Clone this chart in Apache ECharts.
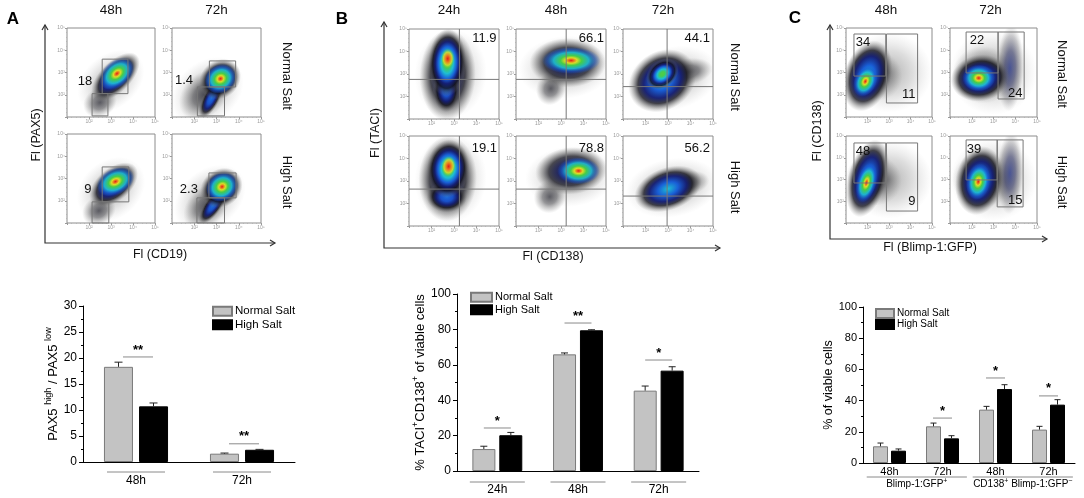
<!DOCTYPE html>
<html><head><meta charset="utf-8">
<script src="https://cdn.jsdelivr.net/npm/echarts@6/dist/echarts.min.js"></script>
<style>html,body{margin:0;padding:0;background:#fff}#c{width:1084px;height:498px}</style>
</head><body><div id="c"></div>
<script>
// ================= DATA =================
// --- bar chart A ---
const catsA = ['48h', '72h'];
const paxNormal = [18.3, 1.6];
const paxHigh = [10.7, 2.35];
const paxNormalErr = [0.9, 0.12];
const paxHighErr = [0.65, 0.08];
const sigA = [[0, 20.2, '**'], [1, 3.5, '**']];
// --- bar chart B ---
const catsB = ['24h', '48h', '72h'];
const taciNormal = [12.4, 65.9, 45.4];
const taciHigh = [20.2, 79.5, 56.7];
const taciNormalErr = [1.6, 0.8, 2.6];
const taciHighErr = [1.6, 0.3, 2.2];
const sigB = [[0, 24.3, '*'], [1, 83.6, '**'], [2, 62.7, '*']];
// --- bar chart C ---
const catsC = ['48h', '72h', '48h', '72h'];
const viableNormal = [10.7, 23.5, 34.2, 21.4];
const viableHigh = [7.9, 15.8, 47.4, 37.4];
const viableNormalErr = [2.1, 2.1, 2.1, 2.1];
const viableHighErr = [1.1, 1.7, 2.8, 3.2];
const sigC = [[1, 28.8, '*'], [2, 54.5, '*'], [3, 43, '*']];
const groupSpansC = [[0, 1], [2, 3]];
const groupLabelsC = ['Blimp-1:GFP{s|+}', 'CD138{s|+} Blimp-1:GFP{s|−}'];
const seriesNames = ['Normal Salt', 'High Salt'];

// --- flow cytometry panels ---
const flowTicks = ['', '10²', '10³', '10⁴', '10⁵'];
const rowLabels = ['Normal Salt', 'High Salt'];
const colsA = ['48h', '72h'];
const colsB = ['24h', '48h', '72h'];
const colsC = ['48h', '72h'];
const axisTitlesA = ['Fl (PAX5)', 'Fl (CD19)'];
const axisTitlesB = ['Fl (TACI)', 'Fl (CD138)'];
const axisTitlesC = ['Fl (CD138)', 'Fl (Blimp-1:GFP)'];
const panelLetters = ['A', 'B', 'C'];
// gates: [panel, x0, y0, x1, y1] (log decades)
const gatesA = [[0,1.6,1.05,2.77,2.6],[0,1.14,0.05,1.86,1.05],[1,1.68,1.35,2.86,2.52],[1,1.14,0.05,2.36,1.35],
                [2,1.6,0.95,2.81,2.52],[2,1.14,0,1.9,0.95],[3,1.66,1.13,2.88,2.25],[3,1.12,0,2.36,1.13]];
const labelsA = [[0,0.82,1.62,'18'],[1,0.54,1.66,'1.4'],[2,0.95,1.53,'9'],[3,0.76,1.53,'2.3']];
// density blobs: [panel, cx, cy, rx, ry, angle, level]
const blobsA = [
  [0,2.0,1.6,1.7,1.2,40,7],[0,1.5,0.65,0.8,0.65,30,6],[0,2.2,1.8,1.4,0.7,45,4],[0,2.27,1.95,0.9,0.6,40,10],
  [1,1.6,1.15,1.8,1.35,40,7],[1,1.45,1.0,1.3,0.95,45,6],[1,1.77,0.85,1.0,0.38,63,4],[1,2.16,1.7,1.0,0.85,40,4],[1,2.18,1.72,0.75,0.65,30,10],
  [2,2.0,1.5,1.7,1.3,40,7],[2,1.45,0.55,0.8,0.65,30,6],[2,2.12,1.72,1.3,0.75,40,4],[2,2.2,1.86,0.9,0.6,25,10],
  [3,1.7,1.1,1.8,1.3,40,7],[3,1.55,0.75,1.2,0.85,45,6],[3,1.85,0.8,1.0,0.38,55,4],[3,2.22,1.58,1.0,0.85,35,4],[3,2.25,1.63,0.75,0.65,30,10]
];
const quadB = [[0,2.24,1.76],[1,2.23,1.76],[2,1.96,1.44],[3,2.24,1.64],[4,2.23,1.64],[5,1.96,1.33]];
const labelsB = [[0,3.35,3.56,'11.9'],[1,3.35,3.56,'66.1'],[2,3.3,3.56,'44.1'],[3,3.35,3.47,'19.1'],[4,3.35,3.47,'78.8'],[5,3.3,3.47,'56.2']];
const blobsB = [
  [0,1.85,2.0,2.0,1.6,85,7],[0,1.72,1.95,2.05,1.25,88,5],[0,1.66,1.3,1.0,0.6,90,4],[0,1.7,2.5,1.5,0.85,88,2],[0,1.72,2.68,0.45,0.3,88,9],
  [1,2.2,2.3,2.1,1.4,5,7],[1,1.55,1.35,0.75,0.65,70,6],[1,2.3,2.5,1.7,1.1,0,5],[1,2.45,2.6,1.3,0.6,0,10],
  [2,2.2,1.8,2.1,1.4,15,7],[2,2.9,2.1,1.1,0.6,10,6],[2,1.75,1.7,1.6,1.3,35,3],[2,1.75,2.0,0.8,0.6,40,2],
  [3,1.85,2.1,2.0,1.6,85,7],[3,1.72,2.1,1.9,1.3,88,5],[3,1.68,1.3,0.9,0.7,0,4],[3,1.74,2.55,1.3,0.95,85,2],[3,1.76,2.65,0.45,0.32,85,9],
  [4,2.4,2.2,2.0,1.35,5,7],[4,1.5,1.3,0.75,0.7,60,6],[4,2.45,2.45,1.6,1.05,5,5],[4,2.78,2.45,0.95,0.6,0,10],
  [5,2.2,1.7,2.1,1.3,10,7],[5,2.85,1.9,1.0,0.55,10,6],[5,2.0,1.65,1.55,0.95,20,3]
];
const gatesC = [[0,0.37,1.84,1.85,3.73],[0,1.88,0.63,3.33,3.73],[1,0.74,1.98,2.21,3.82],[1,2.21,0.81,3.41,3.82],
                [2,0.37,1.84,1.85,3.68],[2,1.88,0.55,3.33,3.68],[3,0.74,1.98,2.17,3.82],[3,2.17,0.74,3.36,3.82]];
const labelsC = [[0,0.79,3.33,'34'],[0,2.92,1.03,'11'],[1,1.24,3.42,'22'],[1,3.0,1.08,'24'],
                 [2,0.79,3.31,'48'],[2,3.06,0.97,'9'],[3,1.1,3.4,'39'],[3,3.0,1.06,'15']];
const blobsC = [
  [0,2.0,2.0,2.0,1.8,0,7],[0,1.3,1.9,1.2,1.3,70,6],[0,1.0,1.85,1.7,1.05,72,3],[0,0.9,1.6,0.75,0.5,65,10],
  [1,2.0,2.0,2.0,1.9,0,7],[1,1.5,1.9,1.4,1.3,0,6],[1,2.76,2.2,2.0,0.6,88,8],[1,1.38,1.75,1.35,1.05,10,3],[1,1.32,1.75,0.75,0.6,0,10],
  [2,2.0,2.0,2.0,1.8,0,7],[2,1.3,2.0,1.2,1.3,70,6],[2,1.0,2.05,1.85,0.9,75,3],[2,0.95,1.85,0.95,0.45,75,10],
  [3,2.0,2.0,2.0,1.9,0,7],[3,1.5,2.0,1.4,1.3,0,6],[3,2.76,2.3,1.9,0.6,88,8],[3,1.35,1.95,1.6,1.1,80,3],[3,1.3,1.9,0.85,0.55,80,10]
];

// ================= LAYOUT / STYLE =================
const FONT = '"Liberation Sans", Arial, sans-serif';
const palettes = {
  0: [[0,'rgb(225,30,25)'],[0.07,'rgb(235,110,30)'],[0.13,'rgb(220,220,40)'],[0.22,'rgb(70,205,70)'],[0.34,'rgb(30,190,210)'],[0.48,'rgb(25,95,215)'],[0.62,'rgba(20,30,115,0.97)'],[0.75,'rgba(20,20,30,0.8)'],[0.88,'rgba(70,70,70,0.35)'],[1,'rgba(120,120,120,0)']],
  2: [[0,'rgb(80,205,70)'],[0.15,'rgb(70,205,80)'],[0.32,'rgb(30,190,210)'],[0.48,'rgb(25,95,215)'],[0.62,'rgba(20,30,115,0.97)'],[0.76,'rgba(20,20,30,0.8)'],[0.88,'rgba(70,70,70,0.35)'],[1,'rgba(120,120,120,0)']],
  3: [[0,'rgb(30,190,210)'],[0.3,'rgb(25,95,215)'],[0.55,'rgba(20,30,115,0.97)'],[0.72,'rgba(20,20,30,0.8)'],[0.87,'rgba(70,70,70,0.35)'],[1,'rgba(120,120,120,0)']],
  4: [[0,'rgb(30,110,220)'],[0.3,'rgb(25,80,200)'],[0.52,'rgba(20,30,115,0.97)'],[0.7,'rgba(20,20,30,0.8)'],[0.86,'rgba(70,70,70,0.35)'],[1,'rgba(120,120,120,0)']],
  5: [[0,'rgba(25,40,140,0.95)'],[0.35,'rgba(20,25,90,0.92)'],[0.62,'rgba(20,20,30,0.75)'],[0.84,'rgba(70,70,70,0.32)'],[1,'rgba(120,120,120,0)']],
  6: [[0,'rgba(30,30,40,0.7)'],[0.45,'rgba(45,45,50,0.5)'],[0.8,'rgba(100,100,100,0.2)'],[1,'rgba(140,140,140,0)']],
  7: [[0,'rgba(60,60,60,0.42)'],[0.55,'rgba(100,100,100,0.22)'],[1,'rgba(150,150,150,0)']],
  8: [[0,'rgba(30,45,130,0.75)'],[0.4,'rgba(25,30,80,0.55)'],[0.75,'rgba(50,50,60,0.25)'],[1,'rgba(120,120,120,0)']],
  9: [[0,'rgb(225,30,25)'],[0.35,'rgb(235,130,30)'],[0.65,'rgba(215,220,40,0.85)'],[1,'rgba(70,205,70,0)']],
  10: [[0,'rgb(225,30,25)'],[0.1,'rgb(235,120,30)'],[0.2,'rgb(220,220,40)'],[0.36,'rgb(70,205,70)'],[0.6,'rgba(30,190,210,0.9)'],[0.82,'rgba(25,95,215,0.5)'],[1,'rgba(25,95,215,0)']]
};
function stops(level) { return palettes[level].map(([o, c]) => ({offset:o, color:c})); }
const boxesA = [[67,28,155,117],[172,28,261,117],[67,134,155,223],[172,134,261,223]];
const boxesB = [[409,29,499,119],[516,29,606,119],[623,29,713,119],[409,136,499,226],[516,136,606,226],[623,136,713,226]];
const boxesC = [[846,28,932,117],[950,28,1037,117],[846,136,932,223],[950,136,1037,223]];

const option = {animation:false, backgroundColor:'#fff', grid:[], xAxis:[], yAxis:[], series:[], legend:[], graphic:[]};

function addGrid(box, extra) {
  option.grid.push(Object.assign({left:box[0], top:box[1], width:box[2]-box[0], height:box[3]-box[1], containLabel:false, outerBoundsMode:'none'}, extra || {}));
  return option.grid.length - 1;
}

function blobRender(params, api) {
  const c = api.coord([api.value(0), api.value(1)]);
  const u = api.size([1, 1]);
  return {type:'circle', x:c[0], y:c[1], rotation: api.value(4) * Math.PI / 180,
    scaleX: api.value(2) * u[0], scaleY: api.value(3) * u[1], shape:{cx:0, cy:0, r:1},
    style:{fill: new echarts.graphic.RadialGradient(0.5, 0.5, 0.5, stops(api.value(5)))}};
}

function flowPanel(box, p, gates, labels, blobs, quads) {
  const g = addGrid(box, {show:true, borderColor:'#8c8c8c', borderWidth:1, backgroundColor:'#fff'});
  const ax = () => ({gridIndex:g, type:'value', min:0, max:4, interval:1,
    axisLine:{show:false}, splitLine:{show:false},
    axisTick:{show:true, length:2, lineStyle:{color:'#9a9a9a'}},
    minorTick:{show:true, splitNumber:5, length:1, lineStyle:{color:'#b5b5b5'}},
    axisLabel:{show:true, fontSize:5, color:'#9a9a9a', margin:2, fontFamily:FONT, formatter: v => flowTicks[v] || ''}});
  option.xAxis.push(ax()); option.yAxis.push(ax());
  const pick = arr => arr.filter(d => d[0] === p);
  const b = pick(blobs);
  option.series.push({type:'custom', xAxisIndex:g, yAxisIndex:g, clip:true, silent:true, z:2,
    data: b.map(d => d.slice(1, 7)), renderItem: blobRender});
  if (quads) {
    const q = pick(quads);
    option.series.push({type:'custom', xAxisIndex:g, yAxisIndex:g, silent:true, z:3,
      data: q.map(d => [d[1], d[2]]),
      renderItem: (params, api) => {
        const c = api.coord([api.value(0), api.value(1)]);
        const cs = params.coordSys;
        const st = {stroke:'#777', lineWidth:1};
        return {type:'group', children:[
          {type:'line', shape:{x1:c[0], y1:cs.y, x2:c[0], y2:cs.y+cs.height}, style:st},
          {type:'line', shape:{x1:cs.x, y1:c[1], x2:cs.x+cs.width, y2:c[1]}, style:st}]};
      }});
  }
  const gt = pick(gates);
  if (gt.length) {
    option.series.push({type:'custom', xAxisIndex:g, yAxisIndex:g, silent:true, z:3,
      data: gt.map(d => d.slice(1, 5)),
      renderItem: (params, api) => {
        const a = api.coord([api.value(0), api.value(3)]);
        const b2 = api.coord([api.value(2), api.value(1)]);
        return {type:'rect', shape:{x:a[0], y:a[1], width:b2[0]-a[0], height:b2[1]-a[1]},
          style:{fill:'none', stroke:'#777', lineWidth:1}};
      }});
  }
  const lb = pick(labels);
  option.series.push({type:'custom', xAxisIndex:g, yAxisIndex:g, silent:true, z:4,
    data: lb.map(d => [d[1], d[2]]),
    renderItem: (params, api) => {
      const c = api.coord([api.value(0), api.value(1)]);
      return {type:'text', x:c[0], y:c[1], style:{text: lb[params.dataIndex][3], fill:'#111',
        fontSize:13, fontFamily:FONT, textAlign:'center', textVerticalAlign:'middle', align:'center', verticalAlign:'middle'}};
    }});
}

boxesA.forEach((bx, i) => flowPanel(bx, i, gatesA, labelsA, blobsA, null));
boxesB.forEach((bx, i) => flowPanel(bx, i, [], labelsB, blobsB, quadB));
boxesC.forEach((bx, i) => flowPanel(bx, i, gatesC, labelsC, blobsC, null));

function barChart(cfg) {
  const g = addGrid(cfg.box);
  option.xAxis.push({gridIndex:g, type:'category', data: cfg.cats,
    axisLine:{lineStyle:{color:'#000', width:1}}, axisTick:{show:false},
    axisLabel:{color:'#000', fontSize:cfg.catFont, margin:cfg.labelMargin, fontFamily:FONT}});
  option.yAxis.push({gridIndex:g, type:'value', min:0, max:cfg.max, interval:cfg.interval,
    axisLine:{show:true, lineStyle:{color:'#000', width:1}},
    axisTick:{show:true, length:4, lineStyle:{color:'#000'}},
    minorTick:{show:true, splitNumber:2, length:2, lineStyle:{color:'#000'}},
    splitLine:{show:false},
    axisLabel:{color:'#000', fontSize:cfg.tickFont, margin:6, fontFamily:FONT},
    name: cfg.yName, nameLocation:'middle', nameGap: cfg.nameGap,
    nameTextStyle:{color:'#000', fontFamily:FONT, fontSize:cfg.nameFont,
      rich:{n:{fontSize:cfg.nameFont, fontFamily:FONT, color:'#000', verticalAlign:'bottom'},
            s:{fontSize:cfg.nameFont*0.7, fontFamily:FONT, color:'#000', verticalAlign:'bottom', padding:[0,0,cfg.nameFont*0.55,0]}}}});
  const bw = cfg.barWidth;
  option.series.push({name:seriesNames[0], type:'bar', xAxisIndex:g, yAxisIndex:g, data: cfg.normal,
    barWidth:bw, barGap:cfg.barGap, itemStyle:{color:'#c3c3c3', borderColor:'#7a7a7a', borderWidth:1}, z:2});
  option.series.push({name:seriesNames[1], type:'bar', xAxisIndex:g, yAxisIndex:g, data: cfg.high,
    barWidth:bw, barGap:cfg.barGap, itemStyle:{color:'#000', borderColor:'#000', borderWidth:1}, z:2});
  const errData = [];
  cfg.normal.forEach((v, i) => errData.push([i, v, cfg.normalErr[i], 0]));
  cfg.high.forEach((v, i) => errData.push([i, v, cfg.highErr[i], 1]));
  option.series.push({type:'custom', xAxisIndex:g, yAxisIndex:g, silent:true, z:3, clip:false, data: errData,
    renderItem: (params, api) => {
      const off = (api.value(3) === 0 ? -1 : 1) * cfg.errOffset;
      const base = api.coord([api.value(0), api.value(1)]);
      const top = api.coord([api.value(0), api.value(1) + api.value(2)]);
      const x = base[0] + off;
      const st = {stroke:'#222', lineWidth:1};
      return {type:'group', children:[
        {type:'line', shape:{x1:x, y1:base[1], x2:x, y2:top[1]}, style:st},
        {type:'line', shape:{x1:x-cfg.cap, y1:top[1], x2:x+cfg.cap, y2:top[1]}, style:st}]};
    }});
  option.series.push({type:'custom', xAxisIndex:g, yAxisIndex:g, silent:true, z:3, clip:false,
    data: cfg.sig.map(s => [s[0], s[1]]),
    renderItem: (params, api) => {
      const c = api.coord([api.value(0), api.value(1)]);
      const cx = c[0] + (cfg.sigShift || 0);
      return {type:'group', children:[
        {type:'line', shape:{x1:cx-cfg.sigHw, y1:c[1], x2:cx+cfg.sigHw, y2:c[1]}, style:{stroke:'#8a8a8a', lineWidth:1}},
        {type:'text', x:cx, y:c[1]-7, style:{text: cfg.sig[params.dataIndex][2], fill:'#000', fontSize:13, fontWeight:'bold',
          fontFamily:FONT, textAlign:'center', textVerticalAlign:'middle', align:'center', verticalAlign:'middle'}}]};
    }});
  if (cfg.underline) {
    option.series.push({type:'custom', xAxisIndex:g, yAxisIndex:g, silent:true, z:3, clip:false,
      data: cfg.cats.map((c, i) => [i, 0]),
      renderItem: (params, api) => {
        const c = api.coord([api.value(0), 0]);
        return {type:'line', shape:{x1:c[0]-cfg.ulHw, y1:c[1]+cfg.ulOff, x2:c[0]+cfg.ulHw, y2:c[1]+cfg.ulOff},
          style:{stroke:'#8a8a8a', lineWidth:1}};
      }});
  }
  if (cfg.groups) {
    option.series.push({type:'custom', xAxisIndex:g, yAxisIndex:g, silent:true, z:3, clip:false,
      data: cfg.groups.map(s => [s[0], s[1]]),
      renderItem: (params, api) => {
        const a = api.coord([api.value(0), 0]);
        const b = api.coord([api.value(1), 0]);
        const band = api.size([1, 0])[0];
        const x0 = a[0] - band * 0.43, x1 = b[0] + band * 0.46;
        return {type:'group', children:[
          {type:'line', shape:{x1:x0, y1:a[1]+14, x2:x1, y2:a[1]+14}, style:{stroke:'#8a8a8a', lineWidth:1}},
          {type:'text', x:(x0+x1)/2, y:a[1]+21, style:{text: cfg.groupLabels[params.dataIndex], fill:'#000', fontSize:10,
            fontFamily:FONT, textAlign:'center', textVerticalAlign:'middle', align:'center', verticalAlign:'middle',
            rich:{s:{fontSize:7, fontFamily:FONT, fill:'#000', verticalAlign:'bottom', padding:[0,0,5,0]}}}}]};
      }});
  }
  option.legend.push({data:seriesNames.slice(), left:cfg.legend[0], top:cfg.legend[1], orient:'vertical', padding:0,
    itemGap:0, itemWidth:cfg.legendIcon[0], itemHeight:cfg.legendIcon[1], icon:'rect', selectedMode:false,
    textStyle:{fontSize:cfg.legendFont, fontFamily:FONT, color:'#000', lineHeight:cfg.legendLine, padding:[0,0,0,-2]}});
}

barChart({box:[83,306,295,462], cats:catsA, normal:paxNormal, high:paxHigh, normalErr:paxNormalErr, highErr:paxHighErr,
  sig:sigA, max:30, interval:5, barWidth:29, barGap:'21%', errOffset:17.5, cap:4, sigHw:15, sigShift:2,
  underline:true, ulHw:29, ulOff:10, labelMargin:13, catFont:12, tickFont:12,
  yName:'{n|PAX5 }{s|high}{n| / PAX5 }{s|low}', nameGap:21, nameFont:13,
  legend:[212,304.5], legendIcon:[19,9], legendFont:11.5, legendLine:13.5});
barChart({box:[457,294,699,471], cats:catsB, normal:taciNormal, high:taciHigh, normalErr:taciNormalErr, highErr:taciHighErr,
  sig:sigB, max:100, interval:20, barWidth:23, barGap:'17%', errOffset:13.5, cap:3.5, sigHw:13.5,
  underline:true, ulHw:27.5, ulOff:11, labelMargin:13, catFont:12, tickFont:12,
  yName:'{n|% TACI}{s|+}{n|CD138}{s|+}{n| of viable cells}', nameGap:30, nameFont:13,
  legend:[470,291], legendIcon:[21,9], legendFont:11, legendLine:12.5});
barChart({box:[863,307,1075,463], cats:catsC, normal:viableNormal, high:viableHigh, normalErr:viableNormalErr, highErr:viableHighErr,
  sig:sigC, max:100, interval:20, barWidth:15, barGap:'20%', errOffset:9, cap:3, sigHw:9.5,
  underline:false, groups:groupSpansC, groupLabels:groupLabelsC, labelMargin:3, catFont:11, tickFont:11,
  yName:'{n|% of viable cells}', nameGap:27, nameFont:12.5,
  legend:[875,308], legendIcon:[18,9], legendFont:10, legendLine:11});

// ---------- decorations (text / arrows) ----------
function txt(x, y, s, size, opts) {
  option.graphic.push(Object.assign({type:'text', x:x, y:y, silent:true, z:10,
    style:Object.assign({text:s, fill:'#111', fontSize:size, fontFamily:FONT, textAlign:'center', textVerticalAlign:'middle', align:'center', verticalAlign:'middle'}, (opts && opts.style) || {})},
    opts && opts.rotation !== undefined ? {rotation: opts.rotation} : {}));
}
function arrows(x0, y0, yTop, xRight) {
  const st = {stroke:'#333', lineWidth:1.2, fill:'none'};
  option.graphic.push({type:'polyline', silent:true, shape:{points:[[x0, yTop], [x0, y0], [xRight, y0]]}, style:st});
  option.graphic.push({type:'polyline', silent:true, shape:{points:[[x0-3, yTop+5], [x0, yTop], [x0+3, yTop+5]]}, style:st});
  option.graphic.push({type:'polyline', silent:true, shape:{points:[[xRight-5, y0-3], [xRight, y0], [xRight-5, y0+3]]}, style:st});
}
const bold = {style:{fontWeight:'bold', fill:'#000'}};
txt(13, 19, panelLetters[0], 17, bold);
txt(342, 19, panelLetters[1], 17, bold);
txt(795, 18, panelLetters[2], 17, bold);
colsA.forEach((c, i) => txt((boxesA[i][0]+boxesA[i][2])/2, 10, c, 13.5));
colsB.forEach((c, i) => txt((boxesB[i][0]+boxesB[i][2])/2 - 5, 10, c, 13.5));
colsC.forEach((c, i) => txt((boxesC[i][0]+boxesC[i][2])/2 - 3, 10, c, 13.5));
const CW = -Math.PI / 2, CCW = Math.PI / 2;
txt(287, 76, rowLabels[0], 13, {rotation:CW}); txt(287, 182, rowLabels[1], 13, {rotation:CW});
txt(735, 77, rowLabels[0], 13, {rotation:CW}); txt(735, 187, rowLabels[1], 13, {rotation:CW});
txt(1062, 74, rowLabels[0], 13, {rotation:CW}); txt(1062, 182, rowLabels[1], 13, {rotation:CW});
arrows(45, 243, 25, 275);
arrows(384, 248, 22, 720);
arrows(830, 239, 25, 1047);
txt(37, 135, axisTitlesA[0], 12.5, {rotation:CCW}); txt(160, 255, axisTitlesA[1], 12.5);
txt(376, 133, axisTitlesB[0], 12.5, {rotation:CCW}); txt(553, 257, axisTitlesB[1], 12.5);
txt(818, 131, axisTitlesC[0], 12.5, {rotation:CCW}); txt(930, 248, axisTitlesC[1], 12.5);

const chart = echarts.init(document.getElementById('c'), null, {renderer:'canvas'});
chart.setOption(option);
</script></body></html>
